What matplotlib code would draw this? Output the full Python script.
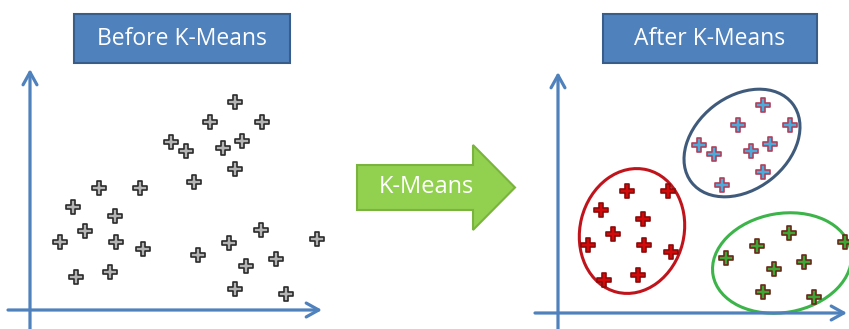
import matplotlib.pyplot as plt
import matplotlib.patches as mpatches
from matplotlib.path import Path

# puntos (misma nube en los dos paneles), unidades arbitrarias
x = [10.25, 9.0, 11.6, 7.05, 7.8, 9.65, 10.6, 10.25, 8.2,
     3.45, 5.5, 2.15, 4.25, 2.75, 1.5, 4.3, 5.65, 2.3, 4.0,
     8.4, 9.95, 11.55, 14.35, 12.3, 10.8, 10.25, 12.8]
y = [10.4, 9.4, 9.4, 8.4, 7.95, 8.1, 8.45, 7.05, 6.4,
     6.1, 6.1, 5.15, 4.7, 3.95, 3.4, 3.4, 3.05, 1.65, 1.9,
     2.75, 3.35, 4.0, 3.55, 2.55, 2.2, 1.05, 0.8]
cluster = [0] * 9 + [1] * 10 + [2] * 8

titulos = ['Before K-Means', 'After K-Means']
flecha_texto = 'K-Means'

# elipses de los grupos: centro, ancho, alto, angulo
elipses = [((9.2, 8.5), 6.4, 4.65, 38),
           ((3.7, 4.1), 5.2, 6.3, -14),
           ((11.2, 2.5), 7.0, 4.95, 10)]

AZUL = '#4F81BD'
relleno = ['#4BACDC', '#D40A0A', '#3FA535']
borde = ['#B0405A', '#8A0A0A', '#6A2A1A']
color_elipse = ['#3F5A7A', '#C0141C', '#3CB44A']

# cruz gruesa como marcador
a = 0.3
cruz = Path([(-a, 1), (a, 1), (a, a), (1, a), (1, -a), (a, -a), (a, -1),
             (-a, -1), (-a, -a), (-1, -a), (-1, a), (-a, a), (-a, 1)], closed=True)

W, H = 849, 329
fig = plt.figure(figsize=(W / 100, H / 100), dpi=100)
fig.patch.set_facecolor('white')

# capa de fondo en pixeles para cajas y flecha
bg = fig.add_axes([0, 0, 1, 1])
bg.set_xlim(0, W)
bg.set_ylim(H, 0)
bg.axis('off')

for (x0, x1), t in zip([(74, 290), (603, 817)], titulos):
    bg.add_patch(mpatches.Rectangle((x0, 14), x1 - x0, 49, facecolor=AZUL,
                                    edgecolor='#385D8A', lw=1.5))
    bg.text((x0 + x1) / 2, 39, t, color='white', fontsize=16.5,
            family='Open Sans', ha='center', va='center')

bg.add_patch(mpatches.FancyArrow(357, 187.5, 158, 0, width=45, head_width=85,
                                 head_length=42, length_includes_head=True,
                                 facecolor='#92D050', edgecolor='#7AB33E', lw=1.5))
bg.text(426, 187, flecha_texto, color='white', fontsize=17,
        family='Open Sans', ha='center', va='center')


def panel(px0, px1, ox, oy, tip_x, tip_y, left_x):
    # ejes con origen en (ox, oy) px, 20 px por unidad
    top = 55
    ax = fig.add_axes([px0 / W, 0, (px1 - px0) / W, (H - top) / H])
    ax.set_xlim((px0 - ox) / 20, (px1 - ox) / 20)
    ax.set_ylim((oy - H) / 20, (oy - top) / 20)
    ax.axis('off')
    ax.patch.set_alpha(0)
    aw = dict(arrowstyle='->,head_length=0.9,head_width=0.5', color=AZUL,
              lw=2.3, shrinkA=0, shrinkB=0)
    ax.annotate('', xy=((tip_x - ox) / 20, 0), xytext=((left_x - ox) / 20, 0),
                arrowprops=aw)
    ax.annotate('', xy=(0, (oy - tip_y) / 20), xytext=(0, (oy - H) / 20),
                arrowprops=aw)
    return ax


ax1 = panel(0, 340, 30, 310, 322, 69, 8)
ax1.plot(x, y, marker=cruz, ms=10, mfc='#B4B4B4', mec='#2A2A2A', mew=1.2, ls='none')

ax2 = panel(530, 849, 558, 313, 847, 72, 535)
for k in range(3):
    xs = [p for p, c in zip(x, cluster) if c == k]
    ys = [q for q, c in zip(y, cluster) if c == k]
    ax2.plot(xs, ys, marker=cruz, ms=10, mfc=relleno[k], mec=borde[k], mew=1.2,
             ls='none')
    (cx, cy), w, h, ang = elipses[k]
    ax2.add_patch(mpatches.Ellipse((cx, cy), w, h, angle=ang, fill=False,
                                   edgecolor=color_elipse[k], lw=2.2))

fig.savefig('out.png', dpi=100)
